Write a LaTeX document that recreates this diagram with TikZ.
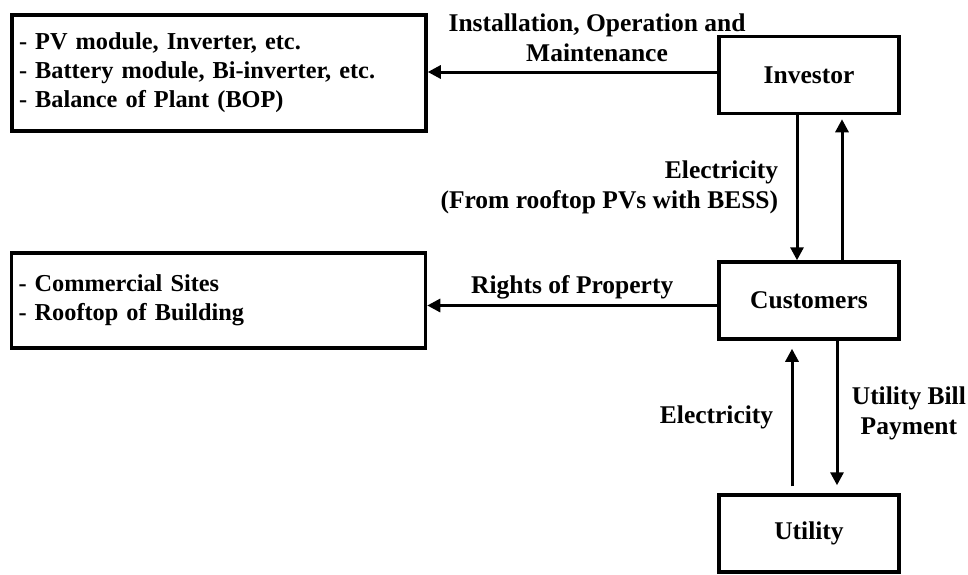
\documentclass[tikz,border=0pt]{standalone}
\usepackage{fontspec}
\setmainfont{Liberation Serif}
\usetikzlibrary{arrows.meta,positioning,calc}

\begin{document}
\begin{tikzpicture}[x=1pt,y=-1pt,
  font=\bfseries\fontsize{25.5}{30}\selectfont,
  party/.style={draw,line width=3.5pt,minimum width=180pt,minimum height=77pt,inner sep=0pt},
  listbox/.style={draw,line width=3.5pt,align=left,text width=400pt,inner xsep=7pt,inner ysep=0pt,font=\bfseries\fontsize{24.3}{29}\selectfont},
  flow/.style={line width=3pt,-{Triangle[length=13pt,width=13pt]}}]
  \useasboundingbox (0,0) rectangle (968,574);
  \node[party] (invest) at (809,75) {Investor};
  \node[party] (cust) at (809,300.5) {Customers};
  \node[party] (util) at (809,533.5) {Utility};
  \node[listbox,minimum height=116pt] (equip) at (219,73) {- PV module, Inverter, etc.\\- Battery module, Bi-inverter, etc.\\- Balance of Plant (BOP)};
  \node[listbox,minimum height=95pt] (site) at (218.5,300.5) {- Commercial Sites\\- Rooftop of Building};
  \draw[flow] ([yshift=3pt]invest.west) -- ([yshift=3pt]invest.west -| equip.east);
  \node[align=center] (iom) at (597,38) {Installation, Operation and\\Maintenance};
  \draw[flow] ([xshift=-12pt]invest.south) -- node[midway,left=14pt,align=right] (elec1) {Electricity\\(From rooftop PVs with BESS)} ([xshift=-12pt]cust.north);
  \draw[flow] ([xshift=33pt]cust.north) -- ([xshift=33pt,yshift=-4pt]invest.south);
  \draw[flow] ([yshift=-5pt]cust.west) -- node[midway,above=2pt] (rights) {Rights of Property} ([yshift=-5pt]cust.west -| site.east);
  \draw[flow] ([xshift=-17pt,yshift=7pt]util.north) -- node[midway,left=14pt] (elec2) {Electricity} ([xshift=-17pt,yshift=-8pt]cust.south);
  \draw[flow] ([xshift=28pt]cust.south) -- node[midway,right=10pt,align=center] (bill) {Utility Bill\\Payment} ([xshift=28pt,yshift=8pt]util.north);
\end{tikzpicture}
\end{document}
